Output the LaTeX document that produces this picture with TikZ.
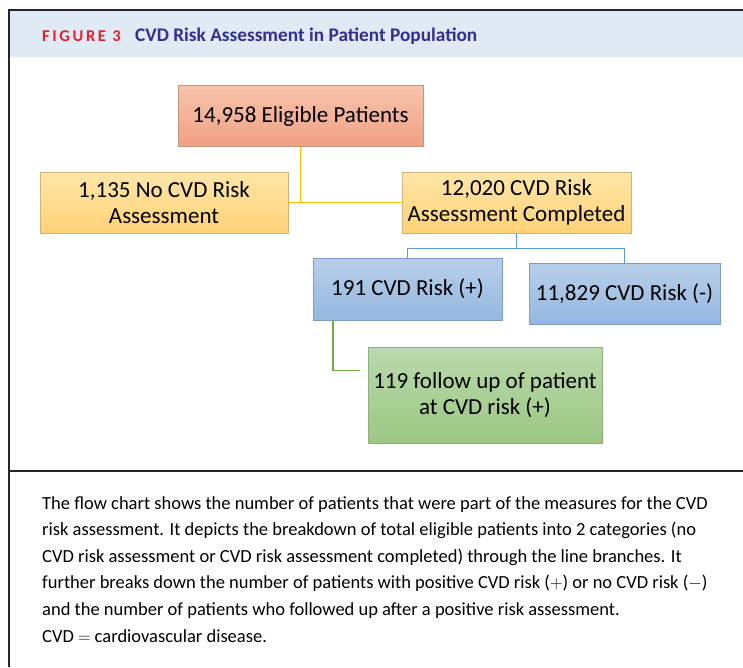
\documentclass[tikz,border=0pt]{standalone}
\usepackage{fontspec}
\setmainfont{Carlito}
\newfontfamily\capfont{Carlito}
\newfontfamily\titlefont{Carlito}
\newfontfamily\figfont[LetterSpace=16]{Carlito}
\usetikzlibrary{shadings,calc}
\definecolor{hdr}{HTML}{DFEAF5}
\definecolor{figred}{HTML}{E2222B}
\definecolor{figblue}{HTML}{2E3190}
\definecolor{salT}{HTML}{F8C4AC}
\definecolor{salB}{HTML}{F0A084}
\definecolor{salD}{HTML}{C4947E}
\definecolor{yelT}{HTML}{FFE6A8}
\definecolor{yelB}{HTML}{FFD277}
\definecolor{yelD}{HTML}{CDB37C}
\definecolor{bluT}{HTML}{B8CFEA}
\definecolor{bluB}{HTML}{95B7E0}
\definecolor{bluD}{HTML}{7E9BC6}
\definecolor{grnT}{HTML}{BAD9AC}
\definecolor{grnB}{HTML}{9BC783}
\definecolor{grnD}{HTML}{8DAF7C}
\definecolor{lnY}{HTML}{FFC000}
\definecolor{lnB}{HTML}{5B9BD5}
\definecolor{lnG}{HTML}{70AD47}
\tikzset{
  box/.style={rectangle, line width=0.8pt, align=center, inner sep=2pt,
    font=\fontsize{23}{25.5}\selectfont, text=black},
  salbox/.style={box, draw=salD, top color=salT, bottom color=salB},
  yelbox/.style={box, draw=yelD, top color=yelT, bottom color=yelB},
  blubox/.style={box, draw=bluD, top color=bluT, bottom color=bluB},
  grnbox/.style={box, draw=grnD, top color=grnT, bottom color=grnB},
  yline/.style={draw=lnY, line width=1.5pt},
  bline/.style={draw=lnB, line width=1.5pt},
  gline/.style={draw=lnG, line width=1.5pt},
  frame/.style={draw=black!85, line width=2pt},
  captext/.style={anchor=base west, inner sep=0pt, font=\capfont\fontsize{18.5}{20}\selectfont, text=black}
}
\begin{document}
\begin{tikzpicture}[x=1pt,y=-1pt]
\fill[white] (0,0) rectangle (743,667);
\useasboundingbox (0,0) rectangle (743,667);
% header
\fill[hdr] (9,10) rectangle (743,57);
\draw[frame] (9,667) -- (9,10) -- (743,10);
\draw[frame] (9,471) -- (743,471);
\node[anchor=base west, inner sep=0pt, text=figred, font=\figfont\bfseries\fontsize{16.5}{18}\selectfont] (figlbl) at (42,41) {FIGURE 3};
\node[anchor=base west, inner sep=0pt, text=figblue, font=\titlefont\bfseries\fontsize{19.3}{20}\selectfont] (title) at (135,41) {CVD Risk Assessment in Patient Population};
% boxes
\node[salbox, minimum width=245, minimum height=61] (elig) at (300.5,116) {14,958 Eligible Patients};
\node[yelbox, minimum width=248, minimum height=61] (nocvd) at (164,202.5) {1,135 No CVD Risk\\Assessment};
\node[yelbox, minimum width=229, minimum height=61] (done) at (516.5,202.5) {12,020 CVD Risk\\Assessment Completed};
\node[blubox, minimum width=189, minimum height=62] (pos) at (407.5,289) {191 CVD Risk (+)};
\node[blubox, minimum width=191, minimum height=61] (neg) at (624.5,293.5) {11,829 CVD Risk (-)};
\node[grnbox, minimum width=234, minimum height=96] (fup) at (485,395) {119 follow up of patient\\at CVD risk (+)};
% connectors
\draw[yline] (elig.south) -- (elig.south |- nocvd.east);
\draw[yline] (nocvd.east) -- (done.west);
\draw[bline] (done.south) -- +(0,15) -| (pos.north);
\draw[bline] (done.south) -- +(0,15) -| (neg.north);
\coordinate (gend) at ([xshift=-8pt,yshift=-24pt]fup.north west);
\draw[gline] ([xshift=-74.5pt]pos.south) |- (gend);
% caption
\node[captext] (c1) at (42,509) {The flow chart shows the number of patients that were part of the measures for the CVD};
\node[captext] (c2) at (42,535.6) {risk assessment. It depicts the breakdown of total eligible patients into 2 categories (no};
\node[captext] (c3) at (42,562.2) {CVD risk assessment or CVD risk assessment completed) through the line branches. It};
\node[captext] (c4) at (42,588.8) {further breaks down the number of patients with positive CVD risk ($+$) or no CVD risk ($-$)};
\node[captext] (c5) at (42,615.4) {and the number of patients who followed up after a positive risk assessment.};
\node[captext] (c6) at (42,642) {CVD $=$ cardiovascular disease.};
\end{tikzpicture}
\end{document}
